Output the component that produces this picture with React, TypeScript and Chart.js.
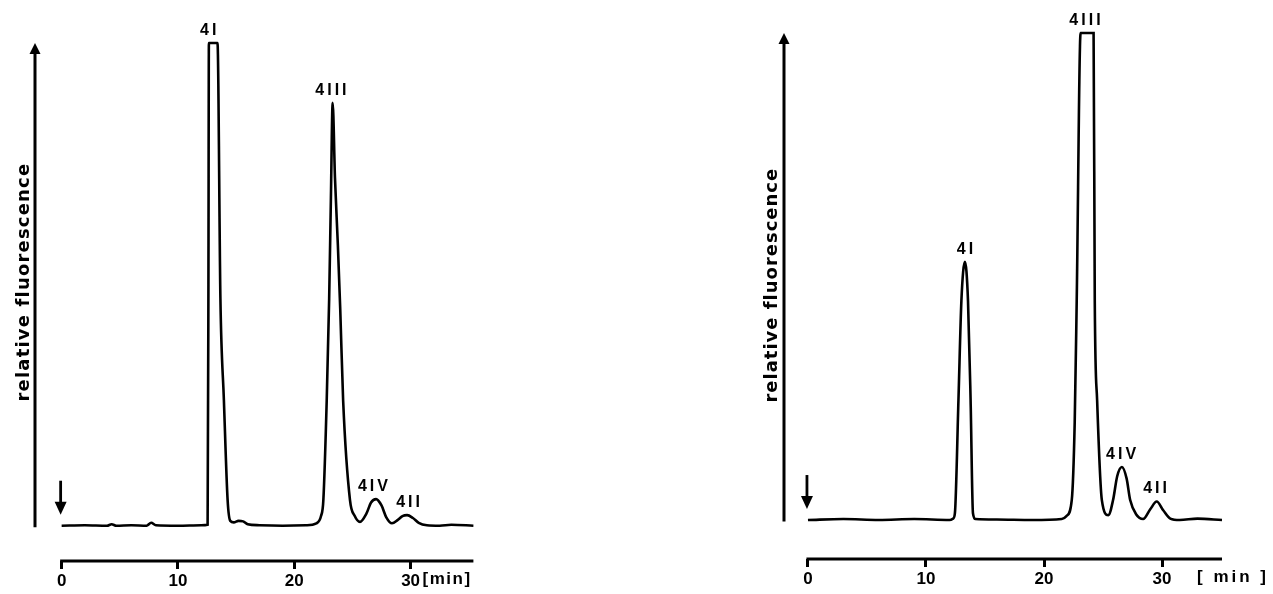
import React, { useEffect, useRef } from "react";
import { Chart, registerables } from "chart.js";

Chart.register(...registerables);

const TIME_TICKS = [0, 10, 20, 30];
const Y_LABEL = "relative fluorescence";

// Left chromatogram (time in min, relative signal; 100 = recorder full scale)
const LEFT_TIME = [
  0, 2.0, 3.9, 4.3, 4.7, 6.0, 7.3, 7.7, 8.1, 10.0, 12.0, 12.55, 12.62, 12.66,
  13.4, 13.65, 13.95, 14.27, 14.5, 14.8, 15.2, 15.6, 16.0, 17.0, 19.0, 21.0,
  21.9, 22.3, 22.5, 22.79, 23.0, 23.15, 23.3, 23.5, 23.75, 23.95, 24.2, 24.79,
  25.2, 25.65, 26.2, 26.6, 27.03, 27.5, 27.9, 28.4, 28.9, 29.3, 29.7, 30.2,
  30.7, 31.4, 32.5, 33.5, 35.4,
];
const LEFT_SIGNAL = [
  0, 0.1, 0, 0.3, 0, 0.1, 0, 0.6, 0.1, 0, 0.1, 0.2, 50, 100,
  100, 47, 26, 5.3, 1.0, 0.7, 1.0, 0.9, 0.3, 0.1, 0, 0.1,
  0.5, 2.0, 5.3, 26, 47, 68, 87.6, 72, 58, 45, 26, 5.3,
  2.0, 0.8, 2.5, 4.8, 5.5, 4.2, 1.8, 0.5, 1.2, 2.0, 2.2, 1.6,
  0.6, 0.1, 0, 0.2, 0,
];
const LEFT_PEAK_NAMES = ["4I", "4III", "4IV", "4II"];
const LEFT_PEAK_TIMES = [12.6, 23.15, 26.76, 29.78];

// Right chromatogram
const RIGHT_TIME = [
  0, 3.0, 6.0, 9.0, 12.0, 12.3, 12.45, 12.75, 13.0, 13.3, 13.56, 13.78, 13.98,
  14.2, 16.0, 19.0, 21.5, 21.9, 22.35, 22.6, 22.77, 23.1, 24.2, 24.3, 24.5,
  24.9, 25.45, 25.85, 26.2, 26.6, 27.0, 27.3, 27.8, 28.4, 29.0, 29.55, 30.1,
  30.7, 31.5, 33.0, 35.08,
];
const RIGHT_SIGNAL = [
  0, 0.2, 0, 0.2, 0, 0.3, 1.4, 24.6, 45, 53, 45, 24.6, 1.4,
  0.2, 0.1, 0, 0.2, 0.8, 4.1, 20, 45, 100, 100, 45, 24.6,
  4.1, 1.0, 4.1, 9, 10.9, 8.5, 4.1, 1.2, 0.2, 2.2, 3.8, 2.0,
  0.3, 0, 0.3, 0,
];
const RIGHT_PEAK_NAMES = ["4I", "4III", "4IV", "4II"];
const RIGHT_PEAK_TIMES = [13.3, 23.47, 26.53, 29.41];

const FONT = "'Liberation Sans', Arial, Helvetica, sans-serif";
const TITLE_FONT = "'DejaVu Sans', 'Liberation Sans', sans-serif";
const H = 594;

type Panel = {
  id: string;
  left: number;
  width: number;
  time: number[];
  signal: number[];
  names: string[];
  peakTimes: number[];
  xMin: number;
  xMax: number;
  yMin: number;
  pad: { top: number; bottom: number; left: number; right: number };
  labelCx: number;
  labelCy: number;
  labelLen: number;
  unitText: string;
  unitDx: number;
  unitSpacing: number;
};

const PANELS: Panel[] = [
  {
    id: "a",
    left: 0,
    width: 636,
    time: LEFT_TIME,
    signal: LEFT_SIGNAL,
    names: LEFT_PEAK_NAMES,
    peakTimes: LEFT_PEAK_TIMES,
    xMin: -2.29,
    xMax: 35.4,
    yMin: -7.31,
    pad: { top: 43, bottom: 0, left: 35, right: 162.6 },
    labelCx: 22,
    labelCy: 283,
    labelLen: 237,
    unitText: "[min]",
    unitDx: 12,
    unitSpacing: 1.5,
  },
  {
    id: "b",
    left: 636,
    width: 637,
    time: RIGHT_TIME,
    signal: RIGHT_SIGNAL,
    names: RIGHT_PEAK_NAMES,
    peakTimes: RIGHT_PEAK_TIMES,
    xMin: -2.03,
    xMax: 35.08,
    yMin: -8.0,
    pad: { top: 33, bottom: 2, left: 148, right: 51 },
    labelCx: 134,
    labelCy: 286,
    labelLen: 233,
    unitText: "[ min ]",
    unitDx: 35,
    unitSpacing: 3,
  },
];

const decorPlugin = {
  id: "decor",
  afterDraw(chart: any, _args: any, opts: any) {
    const p: Panel = opts.panel;
    if (!p) return;
    const ctx: CanvasRenderingContext2D = chart.ctx;
    const xs = chart.scales.x;
    const ys = chart.scales.y;
    const ca = chart.chartArea;
    const base = ys.getPixelForValue(0);
    const x0 = xs.getPixelForValue(0);

    ctx.save();
    ctx.strokeStyle = "#000";
    ctx.fillStyle = "#000";
    ctx.lineCap = "butt";

    // time axis line (starts at 0 min)
    ctx.lineWidth = 3;
    ctx.beginPath();
    ctx.moveTo(x0 - 1.5, ca.bottom);
    ctx.lineTo(xs.getPixelForValue(p.xMax), ca.bottom);
    ctx.stroke();

    // signal axis with arrow head
    const ax = ca.left;
    ctx.beginPath();
    ctx.moveTo(ax, base + 1.5);
    ctx.lineTo(ax, ca.top + 8);
    ctx.stroke();
    ctx.beginPath();
    ctx.moveTo(ax, ca.top);
    ctx.lineTo(ax - 5.5, ca.top + 11);
    ctx.lineTo(ax + 5.5, ca.top + 11);
    ctx.closePath();
    ctx.fill();

    // injection arrow
    const ix = x0 - 1;
    const tip = base - 11;
    const tail = tip - 34;
    ctx.lineWidth = 2.8;
    ctx.beginPath();
    ctx.moveTo(ix, tail);
    ctx.lineTo(ix, tip - 8);
    ctx.stroke();
    ctx.beginPath();
    ctx.moveTo(ix, tip);
    ctx.lineTo(ix - 6, tip - 13);
    ctx.lineTo(ix + 6, tip - 13);
    ctx.closePath();
    ctx.fill();

    // peak labels
    ctx.font = `bold 16px ${FONT}`;
    (ctx as any).letterSpacing = "3px";
    ctx.textAlign = "center";
    ctx.textBaseline = "alphabetic";
    p.names.forEach((name, i) => {
      const t = p.peakTimes[i];
      let best = 0;
      p.time.forEach((tt, k) => {
        if (Math.abs(tt - t) <= 0.6 && p.signal[k] > best) best = p.signal[k];
      });
      const py = ys.getPixelForValue(best) - 14;
      ctx.fillText(name, xs.getPixelForValue(t) + 1.5, py + 5.8);
    });

    // unit label
    ctx.font = `bold 17px ${FONT}`;
    (ctx as any).letterSpacing = `${p.unitSpacing}px`;
    ctx.textAlign = "left";
    const tickY = ca.bottom + 8 + 3 + 12;
    ctx.fillText(p.unitText, xs.getPixelForValue(30) + p.unitDx, tickY);

    // y axis title
    ctx.font = `bold 18px ${TITLE_FONT}`;
    (ctx as any).letterSpacing = "0px";
    const w = ctx.measureText(Y_LABEL).width;
    const ls = (p.labelLen - w) / (Y_LABEL.length - 1);
    (ctx as any).letterSpacing = `${ls}px`;
    ctx.translate(p.labelCx, p.labelCy);
    ctx.rotate(-Math.PI / 2);
    ctx.textAlign = "left";
    ctx.fillText(Y_LABEL, -p.labelLen / 2, 7);
    ctx.restore();
  },
};

function PanelChart({ panel }: { panel: Panel }) {
  const ref = useRef<HTMLCanvasElement>(null);
  useEffect(() => {
    if (!ref.current) return;
    const chart = new Chart(ref.current, {
      type: "line",
      data: {
        datasets: [
          {
            data: panel.time.map((t, i) => ({ x: t, y: panel.signal[i] })),
            borderColor: "#000",
            borderWidth: 2.6,
            pointRadius: 0,
            fill: false,
            cubicInterpolationMode: "monotone",
            clip: false as any,
          },
        ],
      },
      options: {
        animation: false,
        responsive: false,
        maintainAspectRatio: false,
        layout: { padding: panel.pad },
        plugins: {
          legend: { display: false },
          tooltip: { enabled: false },
          decor: { panel } as any,
        } as any,
        scales: {
          x: {
            type: "linear",
            min: panel.xMin,
            max: panel.xMax,
            afterBuildTicks: (s: any) => {
              s.ticks = TIME_TICKS.map((v) => ({ value: v }));
            },
            afterFit: (s: any) => {
              s.height = 33;
            },
            border: { display: false },
            grid: {
              drawOnChartArea: false,
              drawTicks: true,
              tickLength: 8,
              color: "#000",
              lineWidth: 3,
            },
            ticks: {
              color: "#000",
              font: { family: FONT, size: 17, weight: "bold" },
              padding: 2,
              maxRotation: 0,
              autoSkip: false,
            },
          },
          y: { display: false, min: panel.yMin, max: 100 },
        },
      } as any,
      plugins: [decorPlugin],
    });
    return () => chart.destroy();
  }, [panel]);
  return (
    <canvas
      ref={ref}
      width={panel.width}
      height={H}
      style={{ position: "absolute", left: panel.left, top: 0, width: panel.width, height: H }}
    />
  );
}

export default function App() {
  return (
    <div style={{ position: "fixed", left: 0, top: 0, width: 1273, height: H, background: "#fff" }}>
      {PANELS.map((p) => (
        <PanelChart key={p.id} panel={p} />
      ))}
    </div>
  );
}
